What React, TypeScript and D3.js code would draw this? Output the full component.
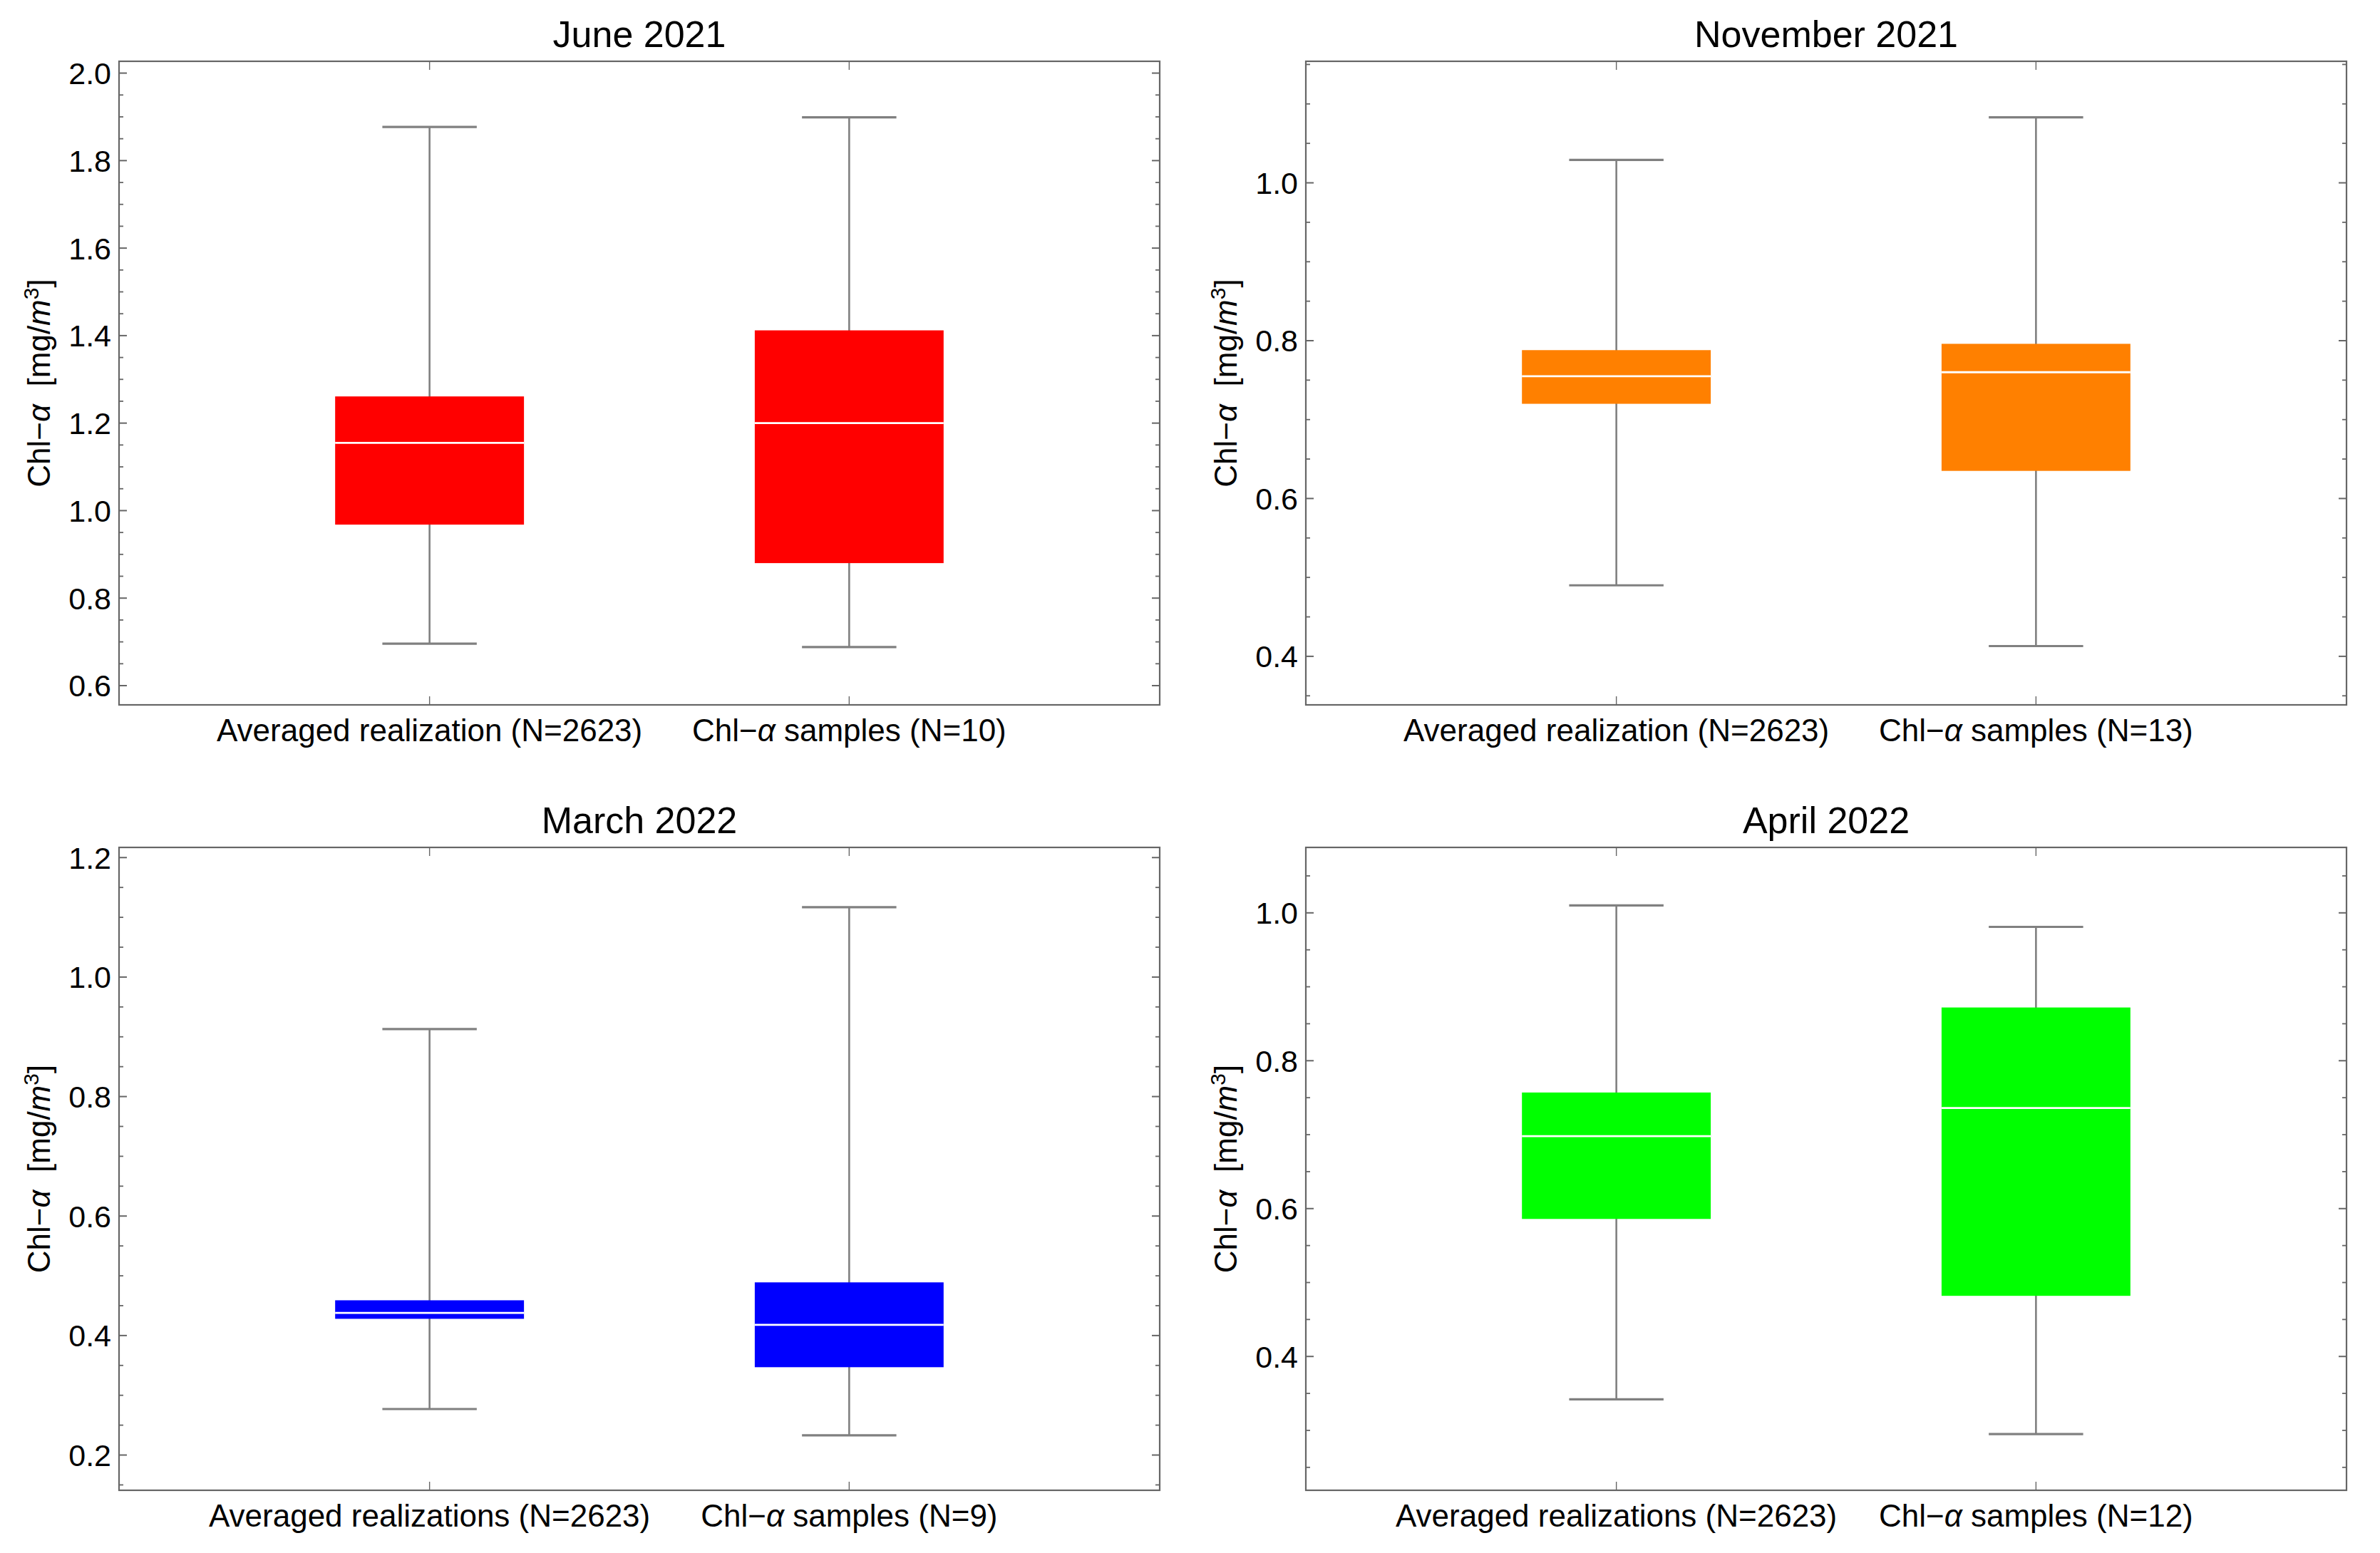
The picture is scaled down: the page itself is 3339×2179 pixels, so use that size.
import React from "react";
import * as d3 from "d3";

// ---------- data ----------
const panelTitles = ["June 2021", "November 2021", "March 2022", "April 2022"];

const categoriesJune = ["Averaged realization (N=2623)", "Chl−α samples (N=10)"];
const categoriesNovember = ["Averaged realization (N=2623)", "Chl−α samples (N=13)"];
const categoriesMarch = ["Averaged realizations (N=2623)", "Chl−α samples (N=9)"];
const categoriesApril = ["Averaged realizations (N=2623)", "Chl−α samples (N=12)"];

// [min, q1, median, q3, max]
const statsJune = [
  [0.696, 0.968, 1.155, 1.261, 1.877],
  [0.688, 0.88, 1.2, 1.412, 1.899],
];
const statsNovember = [
  [0.49, 0.72, 0.755, 0.788, 1.029],
  [0.413, 0.635, 0.76, 0.796, 1.083],
];
const statsMarch = [
  [0.277, 0.428, 0.438, 0.459, 0.913],
  [0.233, 0.347, 0.418, 0.489, 1.117],
];
const statsApril = [
  [0.342, 0.586, 0.698, 0.757, 1.01],
  [0.295, 0.482, 0.736, 0.872, 0.981],
];

const boxColors = ["#ff0000", "#ff8000", "#0000ff", "#00ff00"];

const yDomainJune = [0.556, 2.027];
const yDomainNovember = [0.3385, 1.154];
const yDomainMarch = [0.141, 1.217];
const yDomainApril = [0.219, 1.0885];

const ticksJune = [0.6, 0.8, 1.0, 1.2, 1.4, 1.6, 1.8, 2.0];
const ticksNovember = [0.4, 0.6, 0.8, 1.0];
const ticksMarch = [0.2, 0.4, 0.6, 0.8, 1.0, 1.2];
const ticksApril = [0.4, 0.6, 0.8, 1.0];

const minorStep = 0.05;

// ---------- layout ----------
const W = 3339;
const H = 2179;
const frames = [
  { x0: 167, x1: 1627, y0: 86, y1: 989 },
  { x0: 1832, x1: 3292, y0: 86, y1: 989 },
  { x0: 167, x1: 1627, y0: 1189, y1: 2091 },
  { x0: 1832, x1: 3292, y0: 1189, y1: 2091 },
];

const panels = [
  { title: panelTitles[0], cats: categoriesJune, stats: statsJune, color: boxColors[0], domain: yDomainJune, ticks: ticksJune },
  { title: panelTitles[1], cats: categoriesNovember, stats: statsNovember, color: boxColors[1], domain: yDomainNovember, ticks: ticksNovember },
  { title: panelTitles[2], cats: categoriesMarch, stats: statsMarch, color: boxColors[2], domain: yDomainMarch, ticks: ticksMarch },
  { title: panelTitles[3], cats: categoriesApril, stats: statsApril, color: boxColors[3], domain: yDomainApril, ticks: ticksApril },
];

const FONT = "'Liberation Sans', Arial, Helvetica, sans-serif";
const FRAME = "#666666";
const WHISK = "#808080";

function rich(s: string) {
  const parts = s.split("α");
  const out: React.ReactNode[] = [];
  parts.forEach((p, i) => {
    if (p) out.push(<tspan key={"p" + i}>{p}</tspan>);
    if (i < parts.length - 1)
      out.push(
        <tspan key={"a" + i} fontStyle="italic">
          α
        </tspan>
      );
  });
  return out;
}

function Panel({ p, f }: { p: (typeof panels)[number]; f: (typeof frames)[number] }) {
  const y = d3.scaleLinear().domain(p.domain).range([f.y1, f.y0]);
  const x = d3.scalePoint<string>().domain(p.cats).range([f.x0, f.x1]).padding(0.74);
  const step = x.step();
  const boxW = step * 0.45;
  const capW = step * 0.225;

  const minors: number[] = [];
  const lo = Math.ceil(p.domain[0] / minorStep - 1e-6);
  const hi = Math.floor(p.domain[1] / minorStep + 1e-6);
  for (let k = lo; k <= hi; k++) {
    const v = +(k * minorStep).toFixed(3);
    if (!p.ticks.some((t) => Math.abs(t - v) < 1e-6)) minors.push(v);
  }
  const fmt = d3.format(".1f");
  const cx = (f.x0 + f.x1) / 2;
  const cy = (f.y0 + f.y1) / 2;

  return (
    <g>
      <text x={cx} y={f.y0 - 20} textAnchor="middle" fontSize={52} fontFamily={FONT} fill="#000">
        {p.title}
      </text>
      {/* boxes */}
      {p.cats.map((c, i) => {
        const s = p.stats[i];
        const xc = x(c) as number;
        return (
          <g key={c}>
            <line x1={xc} x2={xc} y1={y(s[0])} y2={y(s[4])} stroke={WHISK} strokeWidth={2.6} />
            <line x1={xc - capW / 2} x2={xc + capW / 2} y1={y(s[4])} y2={y(s[4])} stroke={WHISK} strokeWidth={3.2} />
            <line x1={xc - capW / 2} x2={xc + capW / 2} y1={y(s[0])} y2={y(s[0])} stroke={WHISK} strokeWidth={3.2} />
            <rect x={xc - boxW / 2} width={boxW} y={y(s[3])} height={y(s[1]) - y(s[3])} fill={p.color} />
            <line x1={xc - boxW / 2} x2={xc + boxW / 2} y1={y(s[2])} y2={y(s[2])} stroke="#ffffff" strokeWidth={2.8} />
          </g>
        );
      })}
      {/* frame */}
      <rect x={f.x0} y={f.y0} width={f.x1 - f.x0} height={f.y1 - f.y0} fill="none" stroke={FRAME} strokeWidth={2.2} />
      {/* y ticks */}
      {p.ticks.map((t) => (
        <g key={"t" + t}>
          <line x1={f.x0} x2={f.x0 + 11} y1={y(t)} y2={y(t)} stroke={FRAME} strokeWidth={2} />
          <line x1={f.x1} x2={f.x1 - 11} y1={y(t)} y2={y(t)} stroke={FRAME} strokeWidth={2} />
          <text x={f.x0 - 11} y={y(t)} dy="0.36em" textAnchor="end" fontSize={43} fontFamily={FONT} fill="#000">
            {fmt(t)}
          </text>
        </g>
      ))}
      {minors.map((t) => (
        <g key={"m" + t}>
          <line x1={f.x0} x2={f.x0 + 6} y1={y(t)} y2={y(t)} stroke={FRAME} strokeWidth={1.8} />
          <line x1={f.x1} x2={f.x1 - 6} y1={y(t)} y2={y(t)} stroke={FRAME} strokeWidth={1.8} />
        </g>
      ))}
      {/* x ticks + labels */}
      {p.cats.map((c) => {
        const xc = x(c) as number;
        return (
          <g key={"x" + c}>
            <line x1={xc} x2={xc} y1={f.y1} y2={f.y1 - 12} stroke={FRAME} strokeWidth={1.4} />
            <line x1={xc} x2={xc} y1={f.y0} y2={f.y0 + 12} stroke={FRAME} strokeWidth={1.4} />
            <text x={xc} y={f.y1 + 51} textAnchor="middle" fontSize={44} fontFamily={FONT} fill="#000">
              {rich(c)}
            </text>
          </g>
        );
      })}
      {/* y label */}
      <text
        transform={`translate(${f.x0 - 97},${cy}) rotate(-90)`}
        textAnchor="middle"
        fontSize={44}
        fontFamily={FONT}
        fill="#000"
      >
        <tspan>Chl−</tspan>
        <tspan fontStyle="italic">α</tspan>
        <tspan>{"\u00a0\u00a0[mg/"}</tspan>
        <tspan fontStyle="italic">m</tspan>
        <tspan dy={-16} fontSize={30}>
          3
        </tspan>
        <tspan dy={16}>]</tspan>
      </text>
    </g>
  );
}

export default function App() {
  return (
    <svg
      width={W}
      height={H}
      viewBox={`0 0 ${W} ${H}`}
      style={{ position: "absolute", left: 0, top: 0, background: "#fff" }}
    >
      <rect x={0} y={0} width={W} height={H} fill="#fff" />
      {panels.map((p, i) => (
        <Panel key={p.title} p={p} f={frames[i]} />
      ))}
    </svg>
  );
}
